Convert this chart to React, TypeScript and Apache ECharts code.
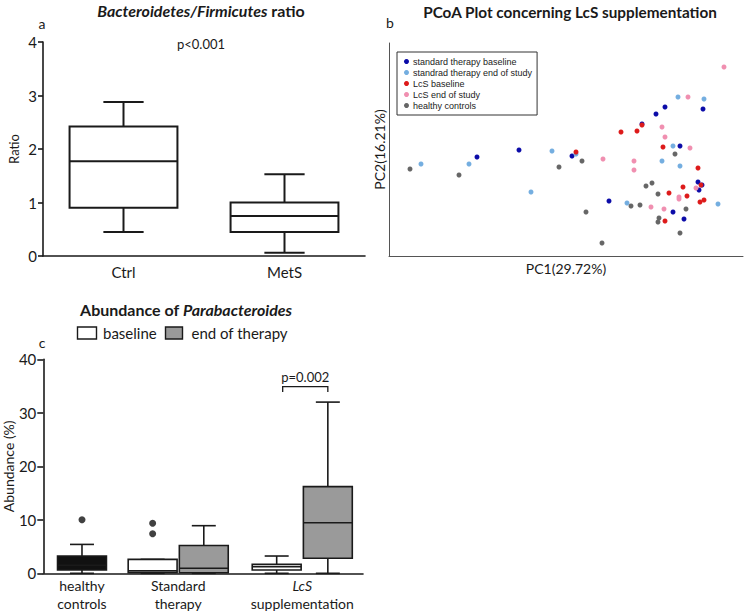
import React, { useEffect, useRef } from 'react';
import * as echarts from 'echarts';

// ---------- Panel a: Bacteroidetes/Firmicutes ratio ----------
const ratioCategories = ['Ctrl', 'MetS'];
// [min, q1, median, q3, max]
const ratioStats = [
  [0.45, 0.9, 1.77, 2.42, 2.88],
  [0.06, 0.45, 0.75, 1.0, 1.53],
];
const ratioTicks = [0, 4, 1]; // min, max, interval

// ---------- Panel b: PCoA ----------
const pcoaGroups = [
  'standard therapy baseline',
  'standrad therapy end of study',
  'LcS baseline',
  'LcS end of study',
  'healthy controls',
];
const stdBaselinePts = [[-0.123, 0.013], [-0.081, 0.02], [-0.028, 0.014], [0.009, -0.031], [0.042, 0.046], [0.056, 0.056], [0.065, 0.063], [0.08, 0.024], [0.073, -0.042], [0.084, -0.049], [0.103, 0.061], [0.098, -0.012], [0.099, -0.02], [0.102, -0.015]];
const stdEndPts = [[-0.179, 0.006], [-0.131, 0.006], [-0.069, -0.022], [-0.048, 0.019], [-0.024, 0.016], [0.027, -0.033], [0.062, 0.009], [0.073, 0.024], [0.08, 0.004], [0.078, 0.073], [0.104, 0.071], [0.118, -0.034]];
const lcsBaselinePts = [[-0.024, 0.018], [0.021, 0.038], [0.037, 0.039], [0.042, 0.045], [0.063, 0.023], [0.098, 0.002], [0.083, -0.017], [0.069, -0.023], [0.087, -0.026], [0.101, -0.015], [0.104, -0.03], [0.1, -0.032], [0.065, -0.051]];
const lcsEndPts = [[0.124, 0.103], [0.088, 0.073], [0.062, 0.043], [0.065, 0.033], [0.09, 0.022], [0.003, 0.011], [0.034, 0.009], [0.034, 0.0], [0.051, -0.037], [0.064, -0.039], [0.079, -0.027], [0.079, -0.029], [0.096, -0.018]];
const healthyPts = [[-0.19, 0.001], [-0.141, -0.005], [-0.041, 0.003], [-0.018, 0.009], [-0.014, -0.042], [0.002, -0.073], [0.031, -0.036], [0.04, -0.035], [0.046, -0.016], [0.052, -0.013], [0.058, -0.024], [0.075, 0.016], [0.086, -0.039], [0.059, -0.048], [0.058, -0.052], [0.08, -0.063]];
const pcoaColors = ['#0b0ba8', '#74aee0', '#dd1a1a', '#f08fb0', '#666666'];

// ---------- Panel c: Abundance of Parabacteroides ----------
const abundanceGroups = ['healthy controls', 'Standard therapy', 'LcS supplementation'];
const abundanceTicks = [0, 40, 10];
// [min, q1, median, q3, max]
const healthyStats = [0, 0.62, 1.5, 3.23, 5.4];
const baselineStats = [
  [0, 0.1, 0.45, 2.6, 2.6],   // Standard therapy
  [0, 0.62, 1.24, 1.68, 3.23], // LcS
];
const endStats = [
  [0, 0.1, 0.93, 5.2, 8.9],
  [0, 2.8, 9.46, 16.2, 32.0],
];
const healthyOutliers = [10.0];
const stdBaselineOutliers = [9.35, 7.4];
const pValueC = { text: 'p=0.002', bracket: 34.9, drop: 33.9, label: 36.7 };

// layout constants for panel c (positions on a hidden value axis)
const groupPos = [1.21, 4.22, 8.1];
const slotOffset = 0.8;

const FONT = 'Lato, "Open Sans", sans-serif';
const INK = '#1a1a1a';

function boxChildren(cx: number, bw: number, cw: number, ys: number[], fill: string, lw: number) {
  const [yMin, yQ1, yMed, yQ3, yMax] = ys;
  const st = { stroke: INK, lineWidth: lw };
  return [
    { type: 'line', shape: { x1: cx, y1: yMax, x2: cx, y2: yQ3 }, style: st },
    { type: 'line', shape: { x1: cx - cw / 2, y1: yMax, x2: cx + cw / 2, y2: yMax }, style: st },
    { type: 'line', shape: { x1: cx, y1: yMin, x2: cx, y2: yQ1 }, style: st },
    { type: 'line', shape: { x1: cx - cw / 2, y1: yMin, x2: cx + cw / 2, y2: yMin }, style: st },
    { type: 'rect', shape: { x: cx - bw / 2, y: yQ3, width: bw, height: yQ1 - yQ3 }, style: { fill, stroke: INK, lineWidth: lw } },
    { type: 'line', shape: { x1: cx - bw / 2, y1: yMed, x2: cx + bw / 2, y2: yMed }, style: st },
  ];
}

export default function App() {
  const ref = useRef<HTMLDivElement>(null);
  useEffect(() => {
    if (!ref.current) return;
    const chart = echarts.init(ref.current, null, { renderer: 'svg' });

    const ratioData = ratioStats.map((s, i) => [i, ...s]);
    const renderRatio = (params: any, api: any) => {
      const x = api.value(0);
      const band = api.size([1, 0])[0];
      const cx = api.coord([x, 0])[0];
      const ys = [1, 2, 3, 4, 5].map((d) => api.coord([x, api.value(d)])[1]);
      return { type: 'group', children: boxChildren(cx, band * 0.67, band * 0.25, ys, '#ffffff', 2) };
    };

    const makeAbRender = (fill: string) => (params: any, api: any) => {
      const x = api.value(0);
      const slot = api.value(1);
      const unit = api.size([1, 0])[0];
      const cx = api.coord([x, 0])[0] + slot * slotOffset * unit;
      const ys = [2, 3, 4, 5, 6].map((d) => api.coord([x, api.value(d)])[1]);
      return { type: 'group', children: boxChildren(cx, unit * 1.53, unit * 0.75, ys, fill, 1.6) };
    };
    const healthyData = [[groupPos[0], 0, ...healthyStats]];
    const baselineData = baselineStats.map((s, i) => [groupPos[i + 1], -1, ...s]);
    const endData = endStats.map((s, i) => [groupPos[i + 1], 1, ...s]);
    const outlierData = [
      ...healthyOutliers.map((v) => [groupPos[0], v]),
      ...stdBaselineOutliers.map((v) => [groupPos[1] - slotOffset, v]),
    ];

    const renderBracket = (params: any, api: any) => {
      const x = api.value(0);
      const unit = api.size([1, 0])[0];
      const c = api.coord([x, api.value(1)]);
      const yDrop = api.coord([x, api.value(2)])[1];
      const yLab = api.coord([x, api.value(3)])[1];
      const x1 = c[0] - slotOffset * unit + 6;
      const x2 = c[0] + slotOffset * unit;
      return {
        type: 'group',
        children: [
          { type: 'polyline', shape: { points: [[x1, yDrop], [x1, c[1]], [x2, c[1]], [x2, yDrop]] }, style: { stroke: INK, lineWidth: 1.3, fill: 'none' } },
          { type: 'text', x: (x1 + x2) / 2, y: yLab, style: { text: pValueC.text, fontFamily: FONT, fontSize: 13, fill: INK, align: 'center', verticalAlign: 'middle' } },
        ],
      };
    };

    const labelMap: Record<string, string> = {};
    groupPos.forEach((p, i) => { labelMap[String(p)] = abundanceGroups[i]; });

    const option: any = {
      animation: false,
      backgroundColor: '#ffffff',
      textStyle: { fontFamily: FONT },
      grid: [
        { left: 43, top: 42, width: 322, height: 214 },
        { left: 389, top: 43, width: 354, height: 213 },
        { left: 43, top: 359.3, width: 320, height: 214 },
      ],
      xAxis: [
        {
          gridIndex: 0, type: 'category', data: ratioCategories,
          axisLine: { lineStyle: { color: INK, width: 1.6 } }, axisTick: { show: false },
          axisLabel: { color: INK, fontSize: 15, fontFamily: FONT, margin: 8 },
        },
        {
          gridIndex: 1, type: 'value', min: -0.211, max: 0.143,
          name: 'PC1(29.72%)', nameLocation: 'middle', nameGap: 5,
          nameTextStyle: { color: INK, fontSize: 14, fontFamily: FONT },
          axisLine: { show: true, onZero: false, lineStyle: { color: '#555', width: 1 } },
          axisTick: { show: false }, axisLabel: { show: false }, splitLine: { show: false },
        },
        {
          gridIndex: 2, type: 'value', min: 0, max: 10,
          axisLine: { lineStyle: { color: INK, width: 1.6 } }, axisTick: { show: false },
          splitLine: { show: false },
          axisLabel: {
            customValues: groupPos, color: INK, fontSize: 14, fontFamily: FONT, margin: 3, lineHeight: 18,
            formatter: (v: number) => {
              const name = labelMap[String(v)] || '';
              if (name === 'LcS supplementation') return '{i|LcS}\nsupplementation';
              return name.replace(' ', '\n');
            },
            rich: { i: { fontStyle: 'italic', fontSize: 14, fontFamily: FONT, color: INK, lineHeight: 18 } },
          },
        },
      ],
      yAxis: [
        {
          gridIndex: 0, type: 'value', min: ratioTicks[0], max: ratioTicks[1], interval: ratioTicks[2],
          name: 'Ratio', nameLocation: 'middle', nameGap: 23, nameTextStyle: { color: INK, fontSize: 13, fontFamily: FONT },
          axisLine: { show: true, lineStyle: { color: INK, width: 1.6 } },
          axisTick: { show: true, length: 5, lineStyle: { color: INK, width: 1.6 } },
          axisLabel: { color: INK, fontSize: 15, fontFamily: FONT, margin: 6 },
          splitLine: { show: false },
        },
        {
          gridIndex: 1, type: 'value', min: -0.086, max: 0.127,
          name: 'PC2(16.21%)', nameLocation: 'middle', nameGap: 3,
          nameTextStyle: { color: INK, fontSize: 14, fontFamily: FONT },
          axisLine: { show: true, onZero: false, lineStyle: { color: '#555', width: 1 } },
          axisTick: { show: false }, axisLabel: { show: false }, splitLine: { show: false },
        },
        {
          gridIndex: 2, type: 'value', min: abundanceTicks[0], max: abundanceTicks[1], interval: abundanceTicks[2],
          name: 'Abundance (%)', nameLocation: 'middle', nameGap: 28, nameTextStyle: { color: INK, fontSize: 14, fontFamily: FONT },
          axisLine: { show: true, lineStyle: { color: INK, width: 1.6 } },
          axisTick: { show: true, length: 6, lineStyle: { color: INK, width: 1.6 } },
          axisLabel: { color: INK, fontSize: 15, fontFamily: FONT, margin: 7 },
          splitLine: { show: false },
        },
      ],
      legend: [
        {
          data: pcoaGroups, left: 397, top: 52, orient: 'vertical',
          backgroundColor: '#fff', borderColor: '#333', borderWidth: 1, borderRadius: 0,
          padding: [4, 5, 4, 7], itemGap: 0, itemWidth: 5, itemHeight: 5, icon: 'circle',
          textStyle: { fontFamily: '"Liberation Sans", Arial, sans-serif', fontSize: 9, color: '#222', lineHeight: 11, padding: [0, 0, 0, -1] },
        },
      ],
      series: [
        { type: 'custom', xAxisIndex: 0, yAxisIndex: 0, data: ratioData, renderItem: renderRatio, silent: true },
        ...[stdBaselinePts, stdEndPts, lcsBaselinePts, lcsEndPts, healthyPts].map((d, i) => ({
          type: 'scatter', name: pcoaGroups[i], xAxisIndex: 1, yAxisIndex: 1, data: d,
          symbolSize: 5, itemStyle: { color: pcoaColors[i], opacity: 1 },
        })),
        { type: 'custom', xAxisIndex: 2, yAxisIndex: 2, data: healthyData, renderItem: makeAbRender('#111111'), silent: true },
        { type: 'custom', xAxisIndex: 2, yAxisIndex: 2, data: baselineData, renderItem: makeAbRender('#ffffff'), silent: true },
        { type: 'custom', xAxisIndex: 2, yAxisIndex: 2, data: endData, renderItem: makeAbRender('#9a9a9a'), silent: true },
        { type: 'scatter', xAxisIndex: 2, yAxisIndex: 2, data: outlierData, symbolSize: 7, itemStyle: { color: '#111' }, silent: true },
        { type: 'custom', xAxisIndex: 2, yAxisIndex: 2, data: [[groupPos[2], pValueC.bracket, pValueC.drop, pValueC.label]], renderItem: renderBracket, silent: true },
      ],
      graphic: [
        {
          type: 'text', x: 201, y: 10,
          style: {
            text: '{i|Bacteroidetes/Firmicutes} ratio', align: 'center', verticalAlign: 'middle',
            fontFamily: FONT, fontSize: 16, fontWeight: 'bold', fill: INK,
            rich: { i: { fontStyle: 'italic', fontWeight: 'bold', fontFamily: FONT, fontSize: 16, fill: INK } },
          },
        },
        { type: 'text', x: 42, y: 23, style: { text: 'a', align: 'center', verticalAlign: 'middle', fontFamily: FONT, fontSize: 14, fill: INK } },
        { type: 'text', x: 201, y: 44, style: { text: 'p<0.001', align: 'center', verticalAlign: 'middle', fontFamily: FONT, fontSize: 13, fill: INK } },
        { type: 'text', x: 570, y: 12, style: { text: 'PCoA Plot concerning LcS supplementation', align: 'center', verticalAlign: 'middle', fontFamily: FONT, fontSize: 15.3, fontWeight: 'bold', fill: INK } },
        { type: 'text', x: 390, y: 22, style: { text: 'b', align: 'center', verticalAlign: 'middle', fontFamily: FONT, fontSize: 14, fill: INK } },
        {
          type: 'text', x: 186, y: 309,
          style: {
            text: 'Abundance of {i|Parabacteroides}', align: 'center', verticalAlign: 'middle',
            fontFamily: FONT, fontSize: 16, fontWeight: 'bold', fill: INK,
            rich: { i: { fontStyle: 'italic', fontWeight: 'bold', fontFamily: FONT, fontSize: 16, fill: INK } },
          },
        },
        { type: 'text', x: 42, y: 342, style: { text: 'c', align: 'center', verticalAlign: 'middle', fontFamily: FONT, fontSize: 14, fill: INK } },
        { type: 'rect', shape: { x: 77.5, y: 327, width: 19, height: 12 }, style: { fill: '#fff', stroke: INK, lineWidth: 1.4 } },
        { type: 'text', x: 103, y: 333, style: { text: 'baseline', align: 'left', verticalAlign: 'middle', fontFamily: FONT, fontSize: 15, fill: INK } },
        { type: 'rect', shape: { x: 165.5, y: 327, width: 17, height: 12 }, style: { fill: '#9a9a9a', stroke: INK, lineWidth: 1.4 } },
        { type: 'text', x: 191.5, y: 333, style: { text: 'end of therapy', align: 'left', verticalAlign: 'middle', fontFamily: FONT, fontSize: 15, fill: INK } },
      ],
    };
    chart.setOption(option);
    return () => chart.dispose();
  }, []);
  return <div ref={ref} style={{ position: 'fixed', left: 0, top: 0, width: 746, height: 613 }} />;
}
